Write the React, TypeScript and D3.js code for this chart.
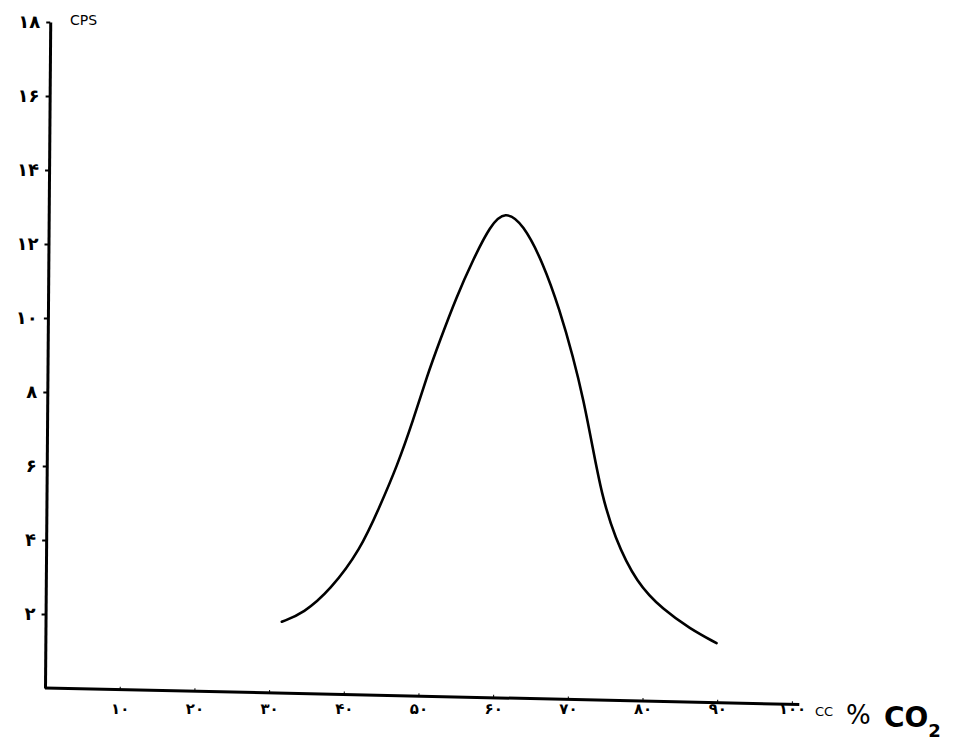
import * as d3 from "d3";
import React, { useEffect, useRef } from "react";

// CO2 % vs counts per second
const co2Percent = [
  31.7, 34.6, 38.2, 42.2, 44.8, 47.1, 49.3, 51.1, 52.9, 55.1, 57.3, 59.6, 61.6,
  64.0, 66.7, 68.9, 70.7, 72.1, 73.3, 74.5, 76.2, 79.2, 82.8, 86.3, 89.9,
];
const cps = [
  1.79, 2.02, 2.65, 3.73, 4.9, 5.98, 7.24, 8.41, 9.41, 10.58, 11.57, 12.5, 12.9,
  12.55, 11.48, 10.22, 8.95, 7.78, 6.52, 5.26, 4.09, 2.83, 2.11, 1.61, 1.21,
];
const xTicks = [10, 20, 30, 40, 50, 60, 70, 80, 90, 100];
const yTicks = [2, 4, 6, 8, 10, 12, 14, 16, 18];

const persianDigits = "۰۱۲۳۴۵۶۷۸۹";
const toPersian = (n: number) =>
  String(n).replace(/\d/g, (c) => persianDigits[+c]);

const App = () => {
  const ref = useRef<SVGSVGElement | null>(null);

  useEffect(() => {
    const svg = d3.select(ref.current);
    svg.selectAll("*").remove();

    const width = 962;
    const height = 748;
    const x0 = 45;
    const y0 = 688;

    svg.attr("width", width).attr("height", height);

    const x = d3.scaleLinear().domain([0, 100]).range([x0, 792]);
    const y = d3.scaleLinear().domain([0, 18]).range([y0, 22]);

    const font = "'DejaVu Sans', sans-serif";

    // x axis line, drawn a bit tilted like the hand drawing
    svg
      .append("g")
      .attr("transform", `translate(0,${y0}) rotate(1.25,${x0},0)`)
      .call(
        d3
          .axisBottom(x)
          .tickValues(xTicks)
          .tickSizeInner(-3)
          .tickSizeOuter(0)
          .tickFormat(() => "")
      )
      .call((g) => g.select(".domain").attr("stroke-width", 3).attr("d", `M${x0},0H${x(101)}`));

    // x tick labels stay horizontal
    svg
      .append("g")
      .attr("transform", `translate(0,${y0 + 12})`)
      .call(d3.axisBottom(x).tickValues(xTicks).tickSize(0).tickFormat((d) => toPersian(+d)))
      .call((g) => g.select(".domain").remove())
      .call((g) =>
        g
          .selectAll("text")
          .attr("font-family", font)
          .attr("font-weight", "bold")
          .attr("font-size", 15)
      );

    // y axis, slightly leaning
    svg
      .append("g")
      .attr("transform", `translate(${x0},0) rotate(0.45,0,${y0})`)
      .call(d3.axisLeft(y).tickValues(yTicks).tickSizeInner(4).tickSizeOuter(0).tickFormat((d) => toPersian(+d)))
      .call((g) => g.select(".domain").attr("stroke-width", 3))
      .call((g) => g.selectAll(".tick line").attr("stroke-width", 2))
      .call((g) =>
        g
          .selectAll("text")
          .attr("font-family", font)
          .attr("font-weight", "bold")
          .attr("font-size", 18)
          .attr("dx", -3)
      );

    svg
      .append("text")
      .attr("x", 70)
      .attr("y", 25)
      .attr("font-family", font)
      .attr("font-size", 14)
      .text("CPS");

    // unit labels after the last x tick
    svg
      .append("text")
      .attr("x", 815)
      .attr("y", 716)
      .attr("font-family", font)
      .attr("font-size", 13)
      .text("CC");
    svg
      .append("text")
      .attr("x", 846)
      .attr("y", 724)
      .attr("font-family", font)
      .attr("font-size", 26)
      .text("%");
    const co2 = svg
      .append("text")
      .attr("x", 884)
      .attr("y", 727)
      .attr("font-family", font)
      .attr("font-weight", "bold")
      .attr("font-size", 28);
    co2.append("tspan").text("CO");
    co2.append("tspan").attr("font-size", 18).attr("dy", 10).text("2");

    const points: [number, number][] = co2Percent.map((c, i) => [c, cps[i]]);
    const line = d3
      .line<[number, number]>()
      .x((d) => x(d[0]))
      .y((d) => y(d[1]))
      .curve(d3.curveBasis);

    svg
      .append("path")
      .datum(points)
      .attr("fill", "none")
      .attr("stroke", "#000")
      .attr("stroke-width", 2.6)
      .attr("stroke-linecap", "round")
      .attr("d", line);
  }, []);

  return <svg ref={ref} style={{ position: "absolute", left: 0, top: 0, background: "#fff" }} />;
};

export default App;
